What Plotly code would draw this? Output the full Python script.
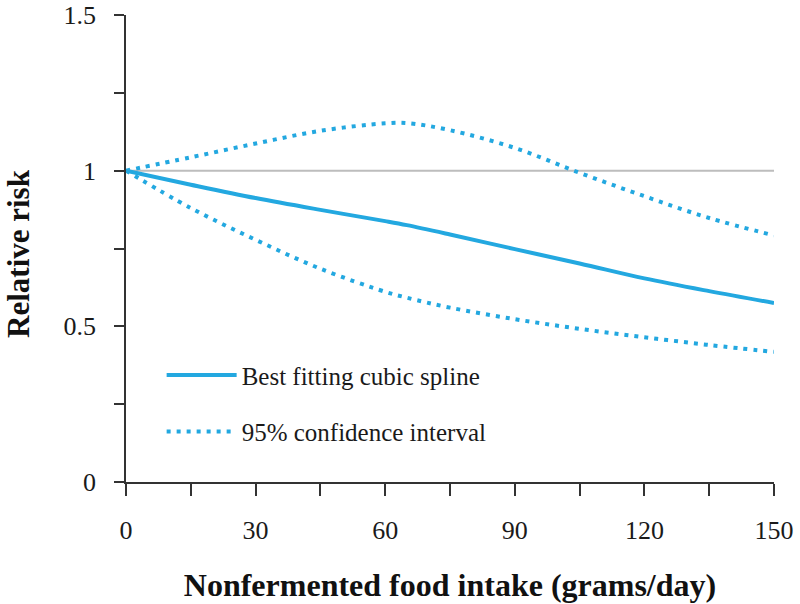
import plotly.graph_objects as go

# Data
x = [0, 15, 30, 45, 60, 65, 75, 90, 105, 120, 135, 150]
spline = [1.0, 0.955, 0.912, 0.874, 0.838, 0.825, 0.795, 0.748, 0.702, 0.654, 0.613, 0.575]
upper = [1.0, 1.043, 1.087, 1.128, 1.152, 1.153, 1.130, 1.073, 0.993, 0.918, 0.848, 0.792]
lower = [1.0, 0.880, 0.778, 0.685, 0.611, 0.592, 0.560, 0.523, 0.492, 0.465, 0.440, 0.418]
ref_x = [0, 150]
ref_y = [1, 1]

blue = "#23a8e0"
serif = "Liberation Serif"

fig = go.Figure()
fig.add_trace(go.Scatter(x=ref_x, y=ref_y, mode="lines",
                         line=dict(color="#bdbdbd", width=2), showlegend=False,
                         hoverinfo="skip"))
fig.add_trace(go.Scatter(x=x, y=upper, mode="lines", name="95% confidence interval",
                         line=dict(color=blue, width=4, dash="4px,6px", shape="spline"),
                         legendgroup="ci", legendrank=2))
fig.add_trace(go.Scatter(x=x, y=lower, mode="lines", name="95% confidence interval",
                         line=dict(color=blue, width=4, dash="4px,6px", shape="spline"),
                         legendgroup="ci", showlegend=False))
fig.add_trace(go.Scatter(x=x, y=spline, mode="lines", name="Best fitting cubic spline",
                         line=dict(color=blue, width=4, shape="spline"),
                         legendgroup="fit", legendrank=1))

fig.update_layout(
    width=800, height=604, autosize=False,
    margin=dict(l=126, r=26, t=15, b=122, autoexpand=False),
    paper_bgcolor="white", plot_bgcolor="white",
    font=dict(family=serif, color="#1a1a1a", size=26),
    showlegend=True,
    legend=dict(x=0.055, y=0.278, xanchor="left", yanchor="top",
                font=dict(family=serif, size=25, color="#1a1a1a"),
                itemwidth=70, traceorder="grouped", tracegroupgap=21,
                bgcolor="rgba(0,0,0,0)"),
    xaxis=dict(range=[0, 150], tickvals=[0, 30, 60, 90, 120, 150],
               automargin=False,
               ticks="outside", ticklen=12, tickwidth=1.5, tickcolor="#333",
               minor=dict(tickvals=[15, 45, 75, 105, 135], ticks="outside",
                          ticklen=12, tickwidth=1.5, tickcolor="#333"),
               showline=True, linecolor="#333", linewidth=1.5,
               showgrid=False, zeroline=False,
               tickfont=dict(family=serif, size=26, color="#1a1a1a"),
               ticklabelstandoff=12, ticklabeloverflow="allow",
               title=dict(text="<b>Nonfermented food intake (grams/day)</b>",
                          font=dict(family=serif, size=32, color="#111"),
                          standoff=30)),
    yaxis=dict(range=[0, 1.5], tickvals=[0, 0.5, 1, 1.5], ticktext=["0", "0.5", "1", "1.5"],
               automargin=False,
               ticks="outside", ticklen=10, tickwidth=1.5, tickcolor="#333",
               minor=dict(tickvals=[0.25, 0.75, 1.25], ticks="outside",
                          ticklen=10, tickwidth=1.5, tickcolor="#333"),
               showline=True, linecolor="#333", linewidth=1.5,
               showgrid=False, zeroline=False,
               tickfont=dict(family=serif, size=26, color="#1a1a1a"),
               ticklabelstandoff=13, ticklabeloverflow="allow"),
    annotations=[dict(text="<b>Relative risk</b>", textangle=-90,
                      xref="paper", yref="paper", x=-0.167, y=0.49,
                      xanchor="center", yanchor="middle", showarrow=False,
                      font=dict(family=serif, size=31, color="#111"))],
)

fig.write_html("out.html",
               config={"displayModeBar": False},
               post_script="document.body.style.margin='0';document.body.style.padding='0';")
